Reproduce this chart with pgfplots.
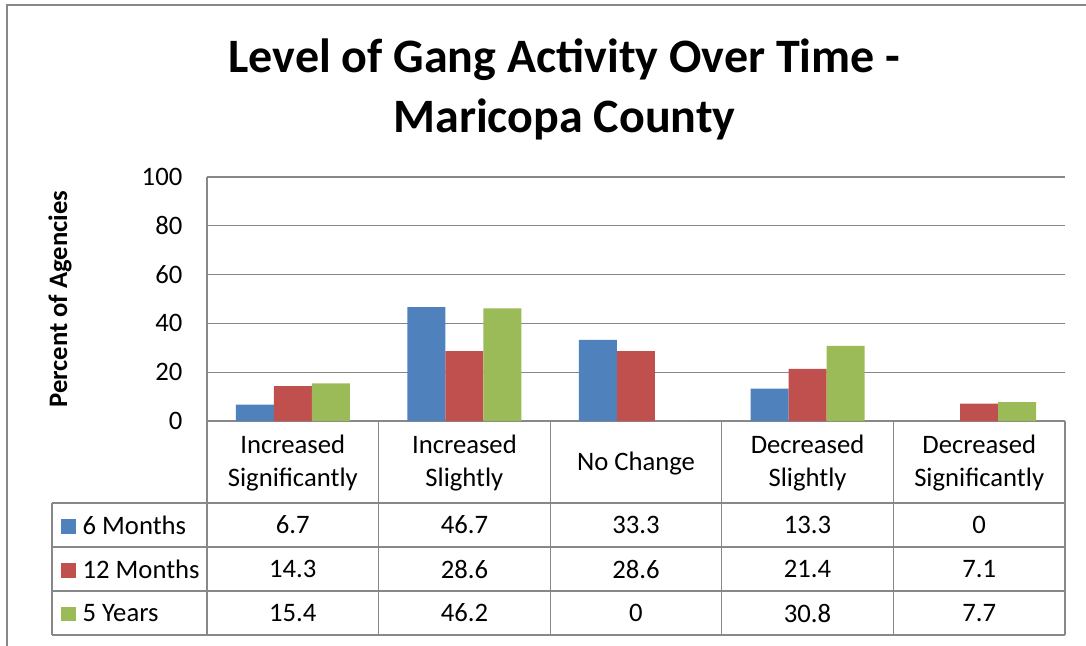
\documentclass[border=0pt]{standalone}
\usepackage{pgfplots}
\pgfplotsset{compat=1.18}
\usepackage{pgfplotstable}
\usepackage{fontspec}
\setmainfont{Carlito}
\definecolor{c1}{HTML}{4F81BD}
\definecolor{c2}{HTML}{C0504D}
\definecolor{c3}{HTML}{9BBB59}
\definecolor{gl}{HTML}{888888}
\newcommand\tf{\fontsize{20}{24.75}\selectfont}
\pgfplotstableread{
x m6 m12 y5
0 6.7 14.3 15.4
1 46.7 28.6 46.2
2 33.3 28.6 0
3 13.3 21.4 30.8
4 0 7.1 7.7
}\data
\begin{document}
\begin{tikzpicture}
\begin{scope}[x=0.75pt,y=-0.75pt]
\useasboundingbox (0,0) rectangle (1086,646);
\draw[gl, line width=1.5pt] (7,5) rectangle (1200,800);
\node[font=\fontsize{36}{45}\selectfont\bfseries, align=center] at (564.5,89) {Level of Gang Activity Over Time -\\Maricopa County};
\end{scope}
\begin{axis}[
 at={(155.25pt,-315.75pt)}, anchor=south west,
 scale only axis, width=643.5pt, height=183pt,
 xmin=-0.5, xmax=4.5, ymin=0, ymax=100,
 ytick={0,20,...,100}, xtick=\empty,
 axis x line*=bottom, axis y line*=left,
 axis line style={gl, line width=1pt, -},
 ymajorgrids, grid style={gl, line width=1pt},
 major tick length=0pt,
 yticklabel style={font=\tf, /pgf/number format/assume math mode=true, anchor=east, xshift=-15pt},
 ylabel={Percent of Agencies},
 ylabel style={font=\tf\bfseries, at={(axis description cs:-0.1713,0.5)}, anchor=center},
 clip=false,
]
\addplot[ybar, bar width=28.5pt, bar shift=-28.5pt, fill=c1, draw=none] table[x=x,y=m6]{\data};
\addplot[ybar, bar width=28.5pt, bar shift=0pt, fill=c2, draw=none] table[x=x,y=m12]{\data};
\addplot[ybar, bar width=28.5pt, bar shift=28.5pt, fill=c3, draw=none] table[x=x,y=y5]{\data};
\addplot[draw=none, nodes near coords, point meta=explicit symbolic, nodes near coords style={anchor=center, font=\tf, text=black}] table[x=x, y expr=-42.62, meta=m6]{\data};
\addplot[draw=none, nodes near coords, point meta=explicit symbolic, nodes near coords style={anchor=center, font=\tf, text=black}] table[x=x, y expr=-60.66, meta=m12]{\data};
\addplot[draw=none, nodes near coords, point meta=explicit symbolic, nodes near coords style={anchor=center, font=\tf, text=black}] table[x=x, y expr=-78.69, meta=y5]{\data};
\node[font=\tf, align=center] at (axis cs:0,-17.3) {Increased\\Significantly};
\node[font=\tf, align=center] at (axis cs:1,-17.3) {Increased\\Slightly};
\node[font=\tf, align=center] at (axis cs:2,-17.3) {No Change};
\node[font=\tf, align=center] at (axis cs:3,-17.3) {Decreased\\Slightly};
\node[font=\tf, align=center] at (axis cs:4,-17.3) {Decreased\\Significantly};
\end{axis}
\begin{scope}[x=0.75pt,y=-0.75pt]
\draw[gl, line width=1pt] (207,421) -- (207,635);
\foreach \xx in {378.6,550.2,721.8,893.4,1065} \draw[gl, line width=1pt] (\xx,421) -- (\xx,635);
\foreach \yy in {503,547,591,635} \draw[gl, line width=1pt] (52,\yy) -- (1065,\yy);
\draw[gl, line width=1pt] (52,503) -- (52,635);
\node[font=\tf, anchor=west, inner sep=0pt] at (61,525) {\textcolor{c1}{\rule{11pt}{11pt}}\hspace{5pt}6 Months};
\node[font=\tf, anchor=west, inner sep=0pt] at (61,569) {\textcolor{c2}{\rule{11pt}{11pt}}\hspace{5pt}12 Months};
\node[font=\tf, anchor=west, inner sep=0pt] at (61,613) {\textcolor{c3}{\rule{11pt}{11pt}}\hspace{5pt}5 Years};
\end{scope}
\end{tikzpicture}
\end{document}
